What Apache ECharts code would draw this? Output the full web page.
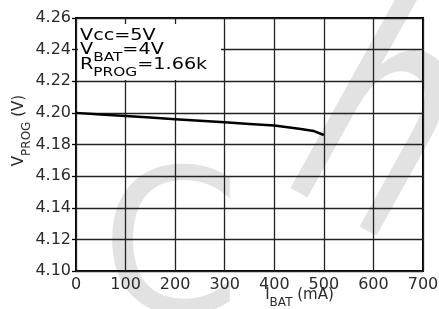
<!DOCTYPE html>
<html>
<head>
<meta charset="utf-8" />
<title>VPROG vs IBAT</title>
<script src="https://cdn.jsdelivr.net/npm/echarts@6/dist/echarts.min.js"></script>
<style>
  html, body { margin: 0; padding: 0; background: #fff; }
  #chart { width: 439px; height: 309px; }
</style>
</head>
<body>
<div id="chart"></div>
<script>
// data
var ibat = [0, 50, 100, 150, 200, 250, 300, 350, 400, 450, 480, 500];
var vprog = [4.200, 4.199, 4.198, 4.197, 4.196, 4.195, 4.194, 4.193, 4.192, 4.190, 4.1885, 4.186];
var xTicks = [0, 100, 200, 300, 400, 500, 600, 700];
var yTicks = [4.10, 4.12, 4.14, 4.16, 4.18, 4.20, 4.22, 4.24, 4.26];
var notes = ['{n|Vcc=5V}', '{n|V}{s|BAT}{n|=4V}', '{n|R}{s|PROG}{n|=1.66k}'];

var chart = echarts.init(document.getElementById('chart'));

var txt = '#2a2a2a';
var font = 'DejaVu Sans';
var subRich = {
  n: { fontSize: 15, fontFamily: font, color: txt, verticalAlign: 'top', lineHeight: 21 },
  s: { fontSize: 12, fontFamily: font, color: txt, verticalAlign: 'bottom', lineHeight: 21 }
};

var series = [{
  type: 'line',
  data: ibat.map(function (x, i) { return [x, vprog[i]]; }),
  showSymbol: false,
  lineStyle: { color: '#000', width: 2.5 },
  z: 5
}];

var option = {
  backgroundColor: '#fff',
  animation: false,
  grid: { left: 76, right: 16, top: 18, bottom: 38, containLabel: false, outerBoundsMode: 'none',
    show: true, borderColor: '#000', borderWidth: 2 },
  xAxis: {
    type: 'value', min: xTicks[0], max: xTicks[xTicks.length - 1], interval: 100,
    name: '{n|I}{s|BAT}{n| (mA)}', nameLocation: 'middle', nameGap: 17, nameMoveOverlap: false,
    nameTextStyle: { rich: subRich, padding: [0, 0, 0, 100] },
    axisLine: { show: false }, axisTick: { show: false },
    axisLabel: { color: txt, fontSize: 16, fontFamily: font, margin: 6 },
    splitLine: { lineStyle: { color: '#222', width: 1.3 } }
  },
  yAxis: {
    type: 'value', min: yTicks[0], max: yTicks[yTicks.length - 1], interval: 0.02,
    name: '{n|V}{s|PROG}{n| (V)}', nameLocation: 'middle', nameGap: 43, nameMoveOverlap: false,
    nameTextStyle: { rich: subRich, padding: [0, 0, 0, 28] },
    axisLine: { show: false },
    axisTick: { show: true, length: 4, lineStyle: { color: '#000', width: 1.3 } },
    axisLabel: { color: txt, fontSize: 16, fontFamily: font, margin: 5,
      formatter: function (v) { return v.toFixed(2); } },
    splitLine: { lineStyle: { color: '#222', width: 1.3 } }
  },
  graphic: [
    // faint watermark behind the plot
    { type: 'text', x: 101, y: 260, z: -10, silent: true,
      style: { text: 'C', fontSize: 200, fontFamily: font, fill: '#e2e2e2',
        align: 'left', verticalAlign: 'middle' } },
    { type: 'text', x: 235, y: 248, rotation: -29 * Math.PI / 180, scaleX: 0.65, z: -10, silent: true,
      style: { text: 'h', fontSize: 330, fontFamily: font, fill: '#e2e2e2',
        align: 'left', verticalAlign: 'bottom' } },
    // white box for the conditions
    { type: 'rect', shape: { x: 78, y: 24, width: 143, height: 56 }, z: 10,
      style: { fill: '#fff' } },
    { type: 'text', x: 80, y: 29, scaleX: 1.28, z: 11, style: { text: notes[0], rich: subRich } },
    { type: 'text', x: 80, y: 43, scaleX: 1.28, z: 11, style: { text: notes[1], rich: subRich } },
    { type: 'text', x: 80, y: 58, scaleX: 1.28, z: 11, style: { text: notes[2], rich: subRich } }
  ],
  series: series
};

chart.setOption(option);
window.onresize = function () { chart.resize(); };
</script>
</body>
</html>
